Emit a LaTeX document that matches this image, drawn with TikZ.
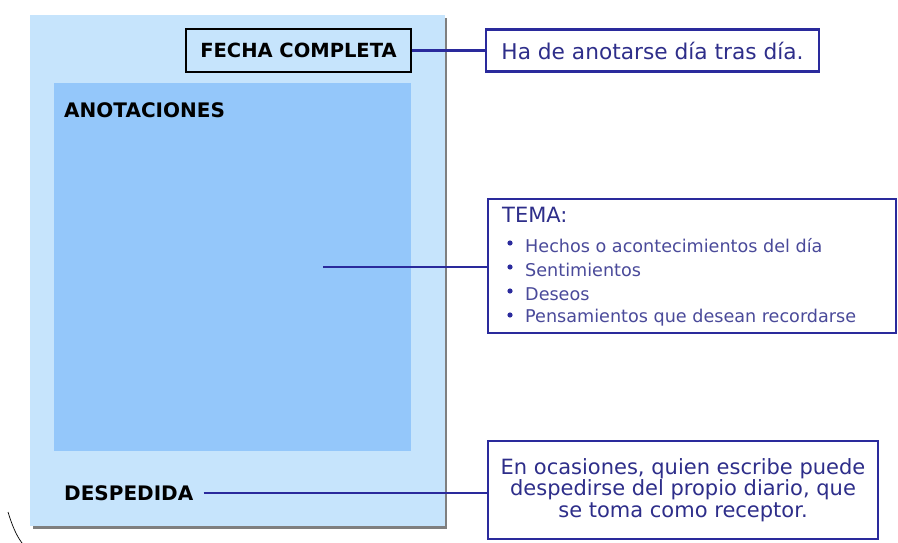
\documentclass[tikz,border=0pt]{standalone}
\usepackage{fontspec}
\setmainfont{DejaVu Sans}
\definecolor{outerblue}{HTML}{C6E4FC}
\definecolor{innerblue}{HTML}{94C7FA}
\definecolor{linkblue}{HTML}{2A2A9C}
\definecolor{textblue}{HTML}{2E2E8A}
\definecolor{listblue}{HTML}{4A4A9A}
\definecolor{shadowgray}{HTML}{7F7F7F}
\tikzset{
  link/.style={draw=linkblue, line width=2.2pt},
  notebox/.style={draw=linkblue, line width=2.2pt, fill=white, text=textblue},
  blacklabel/.style={font=\bfseries\fontsize{20}{22}\selectfont, text=black, inner sep=0pt, anchor=west}
}
\begin{document}
\begin{tikzpicture}[x=1pt,y=-1pt]
\useasboundingbox (0,0) rectangle (898,543);
% sheet with shadow
\fill[shadowgray] (33,18) rectangle (447,529);
\fill[outerblue] (30,15) rectangle (445,526);
% inner annotations area
\fill[innerblue] (54,83) rectangle (411,451);
% fecha completa
\node[draw=black, line width=1.3pt, fill=outerblue, minimum width=225pt, minimum height=43pt, inner sep=0pt,
      font=\bfseries\fontsize{19.5}{22}\selectfont] (fecha) at (298.5,50.5) {FECHA COMPLETA};
\node[blacklabel] (anot) at (64,110) {ANOTACIONES};
\node[blacklabel] (desp) at (64,493) {DESPEDIDA};
\coordinate (center) at (323,267);
% right notes
\node[notebox, minimum width=333pt, minimum height=42pt, inner sep=0pt,
      font=\fontsize{21.7}{24}\selectfont] (n1) at (652.5,50.5) {Ha de anotarse día tras día.};
\node[notebox, minimum width=408pt, minimum height=134pt, inner sep=0pt] (n2) at (692,266) {};
\node[text=textblue, anchor=west, inner sep=0pt, font=\fontsize{21}{24}\selectfont] (tema) at (502,215) {TEMA:};
\foreach \t [count=\i] in {Hechos o acontecimientos del día, Sentimientos, Deseos, Pensamientos que desean recordarse} {
  \fill[linkblue] (510,{219+\i*24}) circle (2.6pt);
  \node[text=listblue, anchor=west, inner sep=0pt, font=\fontsize{17.6}{19}\selectfont] (b\i) at (525,{222+\i*24}) {\t};
}
\node[notebox, minimum width=390pt, minimum height=98pt, inner sep=0pt, align=center,
      font=\fontsize{21}{21.5}\selectfont] (n3) at (683,490) {En ocasiones, quien escribe puede\\despedirse del propio diario, que\\se toma como receptor.};
% connectors
\draw[link] (fecha.east) -- (n1.west);
\draw[link] (center) -- (n2.west |- center);
\draw[link] ([xshift=10pt]desp.east) -- (n3.west |- desp.east);
% stray stroke at bottom left
\draw[black, line width=0.7pt] (8,512) .. controls (12,525) and (16,535) .. (22,543);
\end{tikzpicture}
\end{document}
